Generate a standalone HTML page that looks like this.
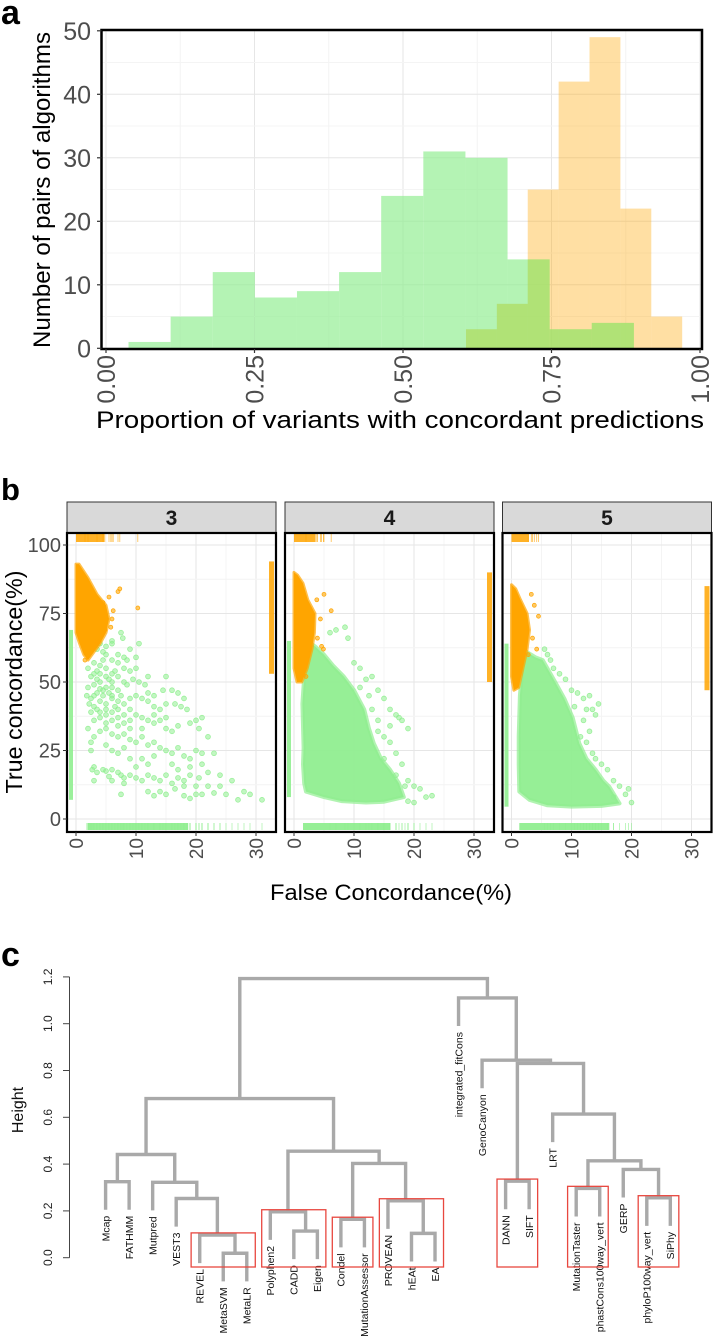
<!DOCTYPE html>
<html><head><meta charset="utf-8"><title>Concordance figure</title>
<style>
html,body{margin:0;padding:0;background:#fff;}
svg{display:block;font-family:"Liberation Sans",Arial,sans-serif;}
</style></head>
<body>
<svg id="fig" width="715" height="1344" viewBox="0 0 715 1344" xmlns="http://www.w3.org/2000/svg">
  <text x="1" y="24" font-size="34" font-weight="bold">a</text>
  <text x="1" y="500" font-size="31" font-weight="bold">b</text>
  <text x="1" y="966" font-size="34" font-weight="bold">c</text>
  <g id="pa"></g>
  <g id="pb"></g>
  <g id="pc"></g>
</svg>
<script>
// ---------- Panel a data ----------
const greenCounts = [1,5,12,8,9,12,24,31,30,14,3,4];
const greenStart = 0.0379, greenWidth = 0.0709;
const orangeCounts = [3,7,25,42,49,22,5];
const orangeStart = 0.606, orangeWidth = 0.052;
const aXTicks = [0,0.25,0.5,0.75,1];
const aXTickLabels = ["0.00","0.25","0.50","0.75","1.00"];
const aYTicks = [0,10,20,30,40,50];

// ---------- Panel b data ----------
const facetLabels = ["3","4","5"];
const bXTicks = [0,10,20,30];
const bYTicks = [0,25,50,75,100];
const orangeHull1 = [[0,93],[0.5,93],[2,88],[3.5,82],[5,78],[5.5,73],[5,68],[4,64],[3,61],[2,58],[1.3,60],[0.6,64],[0,68]];
const orangeHull2 = [[0,90],[0.6,89],[1.5,86],[2.3,80],[3.5,75],[3.4,68],[3,62],[2.2,55],[1.3,50],[0.5,50],[0,55]];
const orangeHull3 = [[0,85.5],[0.7,84],[1.5,80],[2.6,75],[3,69],[2.6,62],[1.9,55],[1.2,48],[0.4,47],[0,52]];
const orangePts1 = [[5.5,81],[7,83],[7.3,84],[6.2,76],[10.3,77],[4.5,79],[6,73],[5.8,70],[4.8,69],[2,59.5],[1.5,58],[3.5,65]];
const orangePts2 = [[5,82],[6.2,76],[4.6,63],[4.9,62],[4.4,73],[3.8,80],[3.9,66],[2,52]];
const orangePts3 = [[3.8,78],[4.5,74],[4.2,62],[3.5,66],[3.3,82],[2.8,60]];
const greenHull1 = [];
const greenHull2 = [[2.2,65],[3.5,63],[5,60],[6.5,56],[8.3,52],[10,47],[11.7,40],[12.5,33],[13.3,27.6],[14.5,22],[16,18],[17.5,13],[18.3,8],[15,6.3],[12,6],[8,6.5],[5,8],[2,10],[1.7,13],[1.5,20],[1.6,26],[1.4,42],[1.7,52],[2,60]];
const greenHull3 = [[2.5,61],[4,59],[5.2,58],[6.5,53],[7.4,49.5],[8.8,44],[10.2,37],[11.3,27.6],[12.5,22],[14,18],[15.3,14],[16.3,11.8],[18,5.7],[15,4.8],[10,4.5],[6,5],[3,7],[1.3,10],[1.2,20],[1.2,30],[1.4,45],[1.8,55]];
const greenPts1 = [[3,66],[4,64],[2.5,63],[3.5,62],[5,63],[6,64],[7.5,68],[7.8,66],[10.5,64],[10,59],[8,59],[7,60],[6,58],[4.5,58],[3,57],[2,55],[2.5,52],[3.5,54],[5,55],[6.5,54],[8,55],[9,54],[7,52],[5.5,51],[4,50],[3,49],[2,48],[1.8,45],[2.5,44],[3.5,46],[4.5,47],[6,48],[7,47],[8.5,49],[9.5,51],[10.5,50],[11.5,49],[12,46],[13,45],[14.5,47],[15,52],[16,47],[17.5,41],[18.5,40],[18,44],[17,46],[16.5,42],[15,42],[14,40],[13,41],[12,43],[11,44],[10,45],[9,44],[8,42],[7,43],[6,44],[5,42],[4,43],[3,41],[2.5,39],[3,36],[4,37],[5,38],[6,39],[7,37],[8,38],[9,36],[10,38],[11,37],[12,36],[13,35],[14,36],[15,33],[16,32],[17,34],[19,35],[20,36],[21,37],[20.5,33],[22,30],[4,32],[5,33],[6,31],[7,30],[8,31],[9,29],[10,28],[11,30],[12,27],[13,28],[14,26],[15,25],[16,24],[17,26],[18,23],[19,22],[20,25],[21,24],[23,24],[21,20],[22,17],[24,16],[5,27],[6,25],[7,24],[8,26],[9,22],[11,22],[12,20],[13,23],[10,19],[3,19],[2.7,18],[3.5,17],[4.5,18],[5,17.5],[5.5,15.5],[6,18],[7,17],[7.5,16],[8,15],[9,16],[10,15],[11,14],[12,16],[13,15],[14,14],[15,16],[16,13],[17,15],[18,14],[19,16],[20,12],[20.5,15],[18,12],[16.5,11],[14,10],[12,10],[8,13],[6,14],[3,14],[7.5,9],[18,8.5],[19,7.5],[21,9],[23,9.5],[25,9],[27,7],[28,10],[29,9],[31,7],[24,12],[26,14],[22,12],[15,9],[13,8.5],[20,9],[17,18],[2.5,25],[3,30],[2,33],[2.5,28],[16,20],[19,19],[11,33],[9,33],[15,37],[13,38],[12,52],[10,55],[8.5,58],[6,65],[9,62],[4,56],[5,52],[6,50],[4.5,45],[3.5,40],[4,39],[5,35],[6,36],[7,34],[8,35],[9,40],[5,48],[6,45],[7,40],[3,45],[4,53],[5,60],[3.5,51],[4.5,61],[5.5,46],[6.5,41],[7.5,45],[8,50],[3,53],[2.2,42],[4,47.5],[6,53],[7,57],[5,40]];
const greenPts2 = [[6,68],[7,69],[8.5,70],[9,66],[10,57],[11,55],[12,51],[13,52],[14,47],[15,44],[16,40],[17,38],[16,34],[17.5,37],[18,36],[19,33],[15,30],[16,28],[17,24],[18,20],[19,14],[20,12],[21,11],[22,8],[23,8.5],[19,6.5],[20,6],[14,36],[12.5,45],[11,48],[15,22],[17,16],[18.5,12],[13,40],[14,32]];
const greenPts3 = [[5.5,62],[6,60],[6.5,58],[7,55],[8,53],[9,51],[10,47],[11,46],[12,44],[13,45],[13.5,40],[14,38],[14.5,42],[12,36],[13,32],[11.5,30],[12.5,28],[13.5,24],[14,22],[15,20],[16,18],[17,14],[18,12],[19,9],[19.5,11],[20,6],[17,8],[12.5,40],[10.5,41]];
const orangeTopRange = [[0,4.7],[0,3.6],[0,2.9]];
const orangeRightRange = [[53,94],[50,90],[47,85]];
const greenLeftRange = [[7,69],[8,65],[4.5,64]];
const greenBottomRange = [[2,18.7],[1.5,16],[1.3,16.3]];

// ---------- Panel c data ----------
const leafNames = ["Mcap","FATHMM","Mutpred","VEST3","REVEL","MetaSVM","MetaLR","Polyphen2","CADD","Eigen","Condel","MutationAssessor","PROVEAN","hEAt","EA","integrated_fitCons","GenoCanyon","DANN","SIFT","LRT","MutationTaster","phastCons100way_vert","GERP","phyloP100way_vert","SiPhy"];
const mergeA = [-6,-5,-4,-1,-3,4,-9,-8,-11,-14,-13,9,8,6,-18,-21,-24,-23,16,-20,15,-17,-16,14];
const mergeB = [-7,1,2,-2,3,5,-10,7,-12,-15,10,11,12,13,-19,-22,-25,17,18,19,20,21,22,23];
const mergeH = [0.019,0.097,0.253,0.325,0.322,0.441,0.114,0.196,0.164,0.104,0.243,0.403,0.455,0.680,0.327,0.296,0.256,0.377,0.414,0.614,0.830,0.844,1.11,1.193];
const boxFirst = [4,7,10,12,17,20,23];
const boxLast = [6,9,11,14,18,21,24];
const boxH = [0.097,0.196,0.164,0.243,0.327,0.296,0.256];
const cYTicks = [0,0.2,0.4,0.6,0.8,1.0,1.2];

const NS = "http://www.w3.org/2000/svg";
function mk(parent, tag, attrs, text){
  const e = document.createElementNS(NS, tag);
  for (const k in attrs) e.setAttribute(k, attrs[k]);
  if (text !== undefined) e.textContent = text;
  parent.appendChild(e);
  return e;
}

// ================= Panel A =================
(function(){
  const g = document.getElementById('pa');
  const L=101.5, R=702, T=30, B=349;
  const xa = v => 106 + v*594;
  const ya = c => 348.3 - c*6.35;
  for (let v=0; v<=1.0001; v+=0.125){
    const ln = mk(g,'line',{x1:xa(v),x2:xa(v),y1:T,y2:B,stroke:(Math.round(v*8)%2? '#f4f4f4':'#e6e6e6'),'stroke-width':1});
    
    
  }
  for (let c=0; c<=52; c+=5){
    const ln = mk(g,'line',{x1:L,x2:R,y1:ya(c),y2:ya(c),stroke:(c%10? '#f4f4f4':'#e6e6e6'),'stroke-width':1});
    
    
  }
  orangeCounts.forEach((c,i)=>{
    const x0 = xa(orangeStart + i*orangeWidth), x1 = xa(orangeStart + (i+1)*orangeWidth);
    const r = mk(g,'rect',{x:x0,y:ya(c),width:x1-x0,height:ya(0)-ya(c),fill:'rgb(255,165,0)','fill-opacity':0.36});
    
    
  });
  greenCounts.forEach((c,i)=>{
    const x0 = xa(greenStart + i*greenWidth), x1 = xa(greenStart + (i+1)*greenWidth);
    const r = mk(g,'rect',{x:x0,y:ya(c),width:x1-x0,height:ya(0)-ya(c),fill:'rgb(144,238,144)','fill-opacity':0.68});
    
    
  });
  // overlap tint: intersection of green and orange bars
  greenCounts.forEach((gc,i)=>{
    const g0 = greenStart + i*greenWidth, g1 = g0 + greenWidth;
    orangeCounts.forEach((oc,j)=>{
      const o0 = orangeStart + j*orangeWidth, o1 = o0 + orangeWidth;
      const a = Math.max(g0,o0), b = Math.min(g1,o1);
      if (b > a){
        const h = Math.min(gc,oc);
        const r = mk(g,'rect',{x:xa(a),y:ya(h),width:xa(b)-xa(a),height:ya(0)-ya(h),fill:'rgb(170,215,60)','fill-opacity':0.35});
        
        
      }
    });
  });
  const bx = mk(g,'rect',{x:L,y:T,width:R-L,height:B-T,fill:'none',stroke:'#000','stroke-width':2.5});
  
  
  aYTicks.forEach(c=>{
    mk(g,'line',{x1:97,x2:L,y1:ya(c),y2:ya(c),stroke:'#333','stroke-width':1.2});
    const t = mk(g,'text',{x:91,y:ya(c)+9,'text-anchor':'end','font-size':25,fill:'#4d4d4d'},String(c));
    
    
  });
  aXTicks.forEach((v,i)=>{
    mk(g,'line',{x1:xa(v),x2:xa(v),y1:B,y2:B+4,stroke:'#333','stroke-width':1.2});
    const t = mk(g,'text',{x:0,y:0,'text-anchor':'end','font-size':25,fill:'#4d4d4d',transform:`translate(${xa(v)+9},${B+6}) rotate(-90)`},aXTickLabels[i]);
    
    
  });
  const yt = mk(g,'text',{x:0,y:0,'text-anchor':'middle','font-size':24,textLength:316,lengthAdjust:'spacingAndGlyphs',transform:'translate(50,190) rotate(-90)'},'Number of pairs of algorithms');
  
  
  const xt = mk(g,'text',{x:400,y:428,'text-anchor':'middle','font-size':24,textLength:608,lengthAdjust:'spacingAndGlyphs'},'Proportion of variants with concordant predictions');
  
  
})();

// ================= Panel B =================
(function(){
  const g = document.getElementById('pb');
  const lefts = [67,285,502.5], W = 209, T = 533, B = 832;
  const yb = v => 819 - v*2.74;
  const oHulls=[orangeHull1,orangeHull2,orangeHull3], gHulls=[greenHull1,greenHull2,greenHull3];
  const oPts=[orangePts1,orangePts2,orangePts3], gPts=[greenPts1,greenPts2,greenPts3];
  for (let p=0;p<3;p++){
    const L = lefts[p];
    const xb = v => L + 9 + v*6.0;
    const pg = mk(g,'g',{});
    
    
    const st = mk(pg,'rect',{x:L,y:502,width:W,height:T-502,fill:'#d9d9d9',stroke:'#333','stroke-width':1});
    
    
    const stt = mk(pg,'text',{x:L+W/2,y:525,'text-anchor':'middle','font-size':21,'font-weight':'bold',fill:'#1a1a1a'},facetLabels[p]);
    
    
    for (let v=0; v<=33; v+=5){
      mk(pg,'line',{x1:xb(v),x2:xb(v),y1:T,y2:B,stroke:(v%10?'#f4f4f4':'#e6e6e6'),'stroke-width':1});
    }
    for (let v=0; v<=104; v+=12.5){
      mk(pg,'line',{x1:L,x2:L+W,y1:yb(v),y2:yb(v),stroke:(v%25?'#f4f4f4':'#e6e6e6'),'stroke-width':1});
    }
    const ot = orangeTopRange[p];
    const r1 = mk(pg,'rect',{x:xb(ot[0]),y:T+1,width:xb(ot[1])-xb(ot[0]),height:8,fill:'#ffa500','fill-opacity':0.85});
    
    
    const orr = orangeRightRange[p];
    const r2 = mk(pg,'rect',{x:L+W-7,y:yb(orr[1]),width:5,height:yb(orr[0])-yb(orr[1]),fill:'#ffa500','fill-opacity':0.85});
    
    
    const gl = greenLeftRange[p];
    const r3 = mk(pg,'rect',{x:L+2,y:yb(gl[1]),width:4,height:yb(gl[0])-yb(gl[1]),fill:'#90ee90','fill-opacity':0.9});
    
    
    const gb = greenBottomRange[p];
    const r4 = mk(pg,'rect',{x:xb(gb[0]),y:B-9,width:xb(gb[1])-xb(gb[0]),height:7,fill:'#90ee90','fill-opacity':0.95});
    
    
    oPts[p].forEach(pt=>{ mk(pg,'line',{x1:xb(pt[0]),x2:xb(pt[0]),y1:T+1,y2:T+9,stroke:'#ffa500','stroke-width':0.8,'stroke-opacity':0.7}); });
    gPts[p].forEach(pt=>{ mk(pg,'line',{x1:xb(pt[0]),x2:xb(pt[0]),y1:B-9,y2:B-2,stroke:'#90ee90','stroke-width':0.8,'stroke-opacity':0.7}); });
    gPts[p].forEach(pt=>{
      const c = mk(pg,'circle',{cx:xb(pt[0]),cy:yb(pt[1]),r:2.4,fill:'#90ee90','fill-opacity':0.55,stroke:'#90ee90','stroke-opacity':0.9,'stroke-width':0.8});
      
      
    });
    if (gHulls[p].length){
      const hp = mk(pg,'polygon',{points:gHulls[p].map(q=>xb(q[0])+','+yb(q[1])).join(' '),fill:'#90ee90','fill-opacity':0.95,stroke:'#90ee90','stroke-opacity':0.7,'stroke-width':4,'stroke-linejoin':'round'});
      
      
    }
    const oh = mk(pg,'polygon',{points:oHulls[p].map(q=>xb(q[0])+','+yb(q[1])).join(' '),fill:'#ffa500',stroke:'#ffa500','stroke-opacity':0.7,'stroke-width':3,'stroke-linejoin':'round'});
    
    
    oPts[p].forEach(pt=>{
      const c = mk(pg,'circle',{cx:xb(pt[0]),cy:yb(pt[1]),r:2,fill:'#ffa500','fill-opacity':0.6,stroke:'#ffa500','stroke-width':0.7});
      
      
    });
    const bx = mk(pg,'rect',{x:L,y:T,width:W,height:B-T,fill:'none',stroke:'#000','stroke-width':2.2});
    
    
    bXTicks.forEach(v=>{
      mk(pg,'line',{x1:xb(v),x2:xb(v),y1:B,y2:B+4,stroke:'#333','stroke-width':1});
      const t = mk(pg,'text',{x:0,y:0,'text-anchor':'end','font-size':19,fill:'#4d4d4d',transform:`translate(${xb(v)+7},${B+6}) rotate(-90)`},String(v));
      
      
    });
  }
  bYTicks.forEach(v=>{
    mk(g,'line',{x1:63,x2:67,y1:yb(v),y2:yb(v),stroke:'#333','stroke-width':1});
    const t = mk(g,'text',{x:61,y:yb(v)+7,'text-anchor':'end','font-size':20,fill:'#4d4d4d'},String(v));
    
    
  });
  const yt = mk(g,'text',{x:0,y:0,'text-anchor':'middle','font-size':23,textLength:223,lengthAdjust:'spacingAndGlyphs',transform:'translate(22,682) rotate(-90)'},'True concordance(%)');
  
  
  const xt = mk(g,'text',{x:391,y:900,'text-anchor':'middle','font-size':22,textLength:242,lengthAdjust:'spacingAndGlyphs'},'False Concordance(%)');
  
  
})();

// ================= Panel C =================
(function(){
  const g = document.getElementById('pc');
  const yc = h => 1257.7 - h*234;
  const xl = i => 105.6 + i*23.53;
  const hang = 0.12;
  const nodeX = [];
  const lineAttrs = {stroke:'#a9a9a9','stroke-width':3.4,fill:'none','stroke-linecap':'butt'};
  function childX(ref){ return ref<0 ? xl(-ref-1) : nodeX[ref-1]; }
  function childH(ref, parentH){ return ref<0 ? parentH - hang : mergeH[ref-1]; }
  for (let k=0;k<mergeA.length;k++){
    const h = mergeH[k];
    const xa = childX(mergeA[k]), xb = childX(mergeB[k]);
    nodeX.push((xa+xb)/2);
    const d = `M${xa},${yc(childH(mergeA[k],h))}V${yc(h)}H${xb}V${yc(childH(mergeB[k],h))}`;
    const p = mk(g,'path',Object.assign({d:d},lineAttrs));
    
    
    [mergeA[k],mergeB[k]].forEach(ref=>{
      if (ref<0){
        const i = -ref-1;
        const t = mk(g,'text',{x:0,y:0,'text-anchor':'end','font-size':10.5,fill:'#111',transform:`translate(${xl(i)+3.8},${yc(h-hang)+6}) rotate(-90)`},leafNames[i]);
        
        
      }
    });
  }
  boxFirst.forEach((f,i)=>{
    const x0 = xl(f)-8.6, x1 = xl(boxLast[i])+8.5, y0 = yc(boxH[i]+0.009);
    const r = mk(g,'rect',{x:x0,y:y0,width:x1-x0,height:1267-y0,fill:'none',stroke:'#e8473f','stroke-width':1.3});
    
    
  });
  const ax = mk(g,'line',{x1:69.5,x2:69.5,y1:yc(0),y2:yc(1.2),stroke:'#444','stroke-width':1});
  
  
  cYTicks.forEach(v=>{
    mk(g,'line',{x1:63,x2:69.5,y1:yc(v),y2:yc(v),stroke:'#444','stroke-width':1});
    const t = mk(g,'text',{x:0,y:0,'text-anchor':'middle','font-size':12,fill:'#222',transform:`translate(52,${yc(v)}) rotate(-90)`},v.toFixed(1));
    
    
  });
  const yt = mk(g,'text',{x:0,y:0,'text-anchor':'middle','font-size':16,fill:'#111',transform:'translate(23,1110) rotate(-90)'},'Height');
  
  
})();
</script>
</body></html>
